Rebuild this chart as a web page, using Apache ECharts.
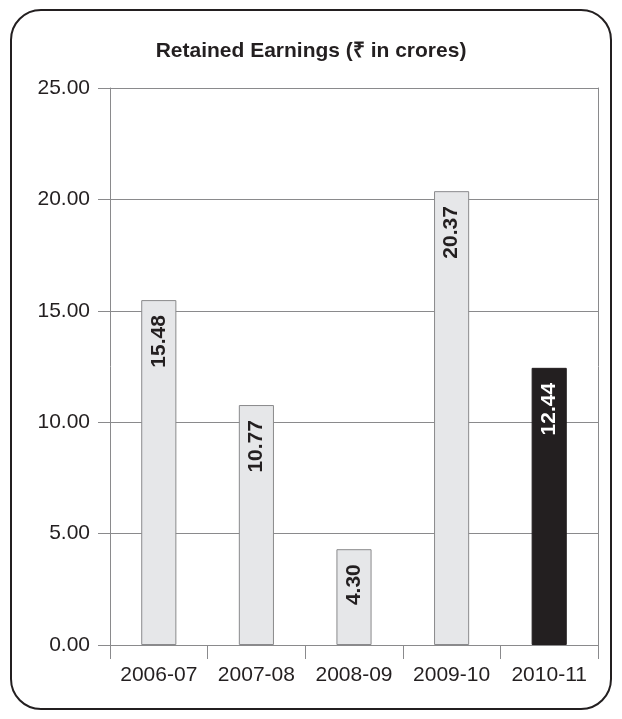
<!DOCTYPE html>
<html>
<head>
<meta charset="utf-8">
<style>
  html, body { margin: 0; padding: 0; background: #ffffff; }
  #chart { width: 622px; height: 719px; }
</style>
<script src="https://cdn.jsdelivr.net/npm/echarts@6/dist/echarts.min.js"></script>
</head>
<body>
<div id="chart"></div>
<script>
// Retained earnings per financial year, in crores of rupees
const years = ['2006-07', '2007-08', '2008-09', '2009-10', '2010-11'];
const earnings = [15.48, 10.77, 4.30, 20.37, 12.44];
const barColors = ['#e6e7e9', '#e6e7e9', '#e6e7e9', '#e6e7e9', '#231f20'];
const labelColors = ['#231f20', '#231f20', '#231f20', '#231f20', '#ffffff'];

const chart = echarts.init(document.getElementById('chart'), null, { renderer: 'canvas' });

const font = '"Liberation Sans", Arial, sans-serif';

chart.setOption({
  animation: false,
  backgroundColor: '#ffffff',
  title: {
    text: 'Retained Earnings (₹ in crores)',
    left: 'center',
    top: 36,
    textStyle: { fontFamily: font, fontSize: 21, fontWeight: 'bold', color: '#231f20' }
  },
  graphic: [{
    type: 'rect',
    shape: { x: 11, y: 10, width: 600, height: 699, r: 30 },
    style: { fill: 'none', stroke: '#231f20', lineWidth: 2 },
    z: -1
  }],
  grid: { left: 110, right: 24, top: 88, bottom: 74 },
  xAxis: {
    type: 'category',
    data: years,
    boundaryGap: true,
    axisLine: { show: true, lineStyle: { color: '#8a8a8c', width: 1 } },
    axisTick: { show: true, interval: 0, length: 14, lineStyle: { color: '#8a8a8c' } },
    axisLabel: {
      interval: 0, hideOverlap: false,
      fontFamily: font, fontSize: 21, color: '#231f20', margin: 20
    },
    splitLine: { show: false }
  },
  yAxis: [{
    type: 'value',
    min: 0,
    max: 25,
    interval: 5,
    axisLine: { show: true, lineStyle: { color: '#8a8a8c', width: 1 } },
    axisTick: { show: true, length: 12, lineStyle: { color: '#8a8a8c' } },
    axisLabel: {
      fontFamily: font, fontSize: 21, color: '#231f20', margin: 20,
      formatter: v => v.toFixed(2)
    },
    splitLine: { show: true, lineStyle: { color: '#8a8a8c', width: 1 } }
  }, {
    type: 'value',
    min: 0,
    max: 25,
    interval: 5,
    position: 'right',
    axisLine: { show: true, lineStyle: { color: '#8a8a8c', width: 1 } },
    axisTick: { show: false },
    axisLabel: { show: false },
    splitLine: { show: false }
  }],
  series: [{
    type: 'bar',
    data: earnings.map((v, i) => ({
      value: v,
      itemStyle: {
        color: barColors[i],
        borderColor: i === 4 ? '#231f20' : '#8a8a8c',
        borderWidth: 1
      },
      label: { color: labelColors[i] }
    })),
    barWidth: '36%',
    label: {
      show: true,
      position: 'insideTop',
      rotate: 90,
      align: 'right',
      verticalAlign: 'middle',
      distance: 15,
      fontFamily: font,
      fontSize: 21,
      fontWeight: 'bold',
      formatter: p => p.value.toFixed(2)
    }
  }]
});
</script>
</body>
</html>
